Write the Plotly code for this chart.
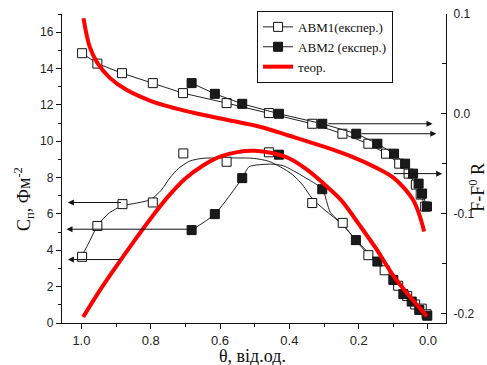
import plotly.graph_objects as go

# ---- data ----
# Upper curves: F - F0 (right axis) vs theta
abm1_theta = [0.998, 0.954, 0.883, 0.794, 0.707, 0.581, 0.459, 0.334, 0.247, 0.172, 0.121, 0.083, 0.056, 0.035, 0.021, 0.008]
abm1_F = [0.0607, 0.0503, 0.0407, 0.0307, 0.0207, 0.0107, 0.0007, -0.010, -0.020, -0.030, -0.040, -0.050, -0.060, -0.071, -0.081, -0.093]

abm2_theta = [0.682, 0.615, 0.536, 0.430, 0.305, 0.207, 0.146, 0.098, 0.066, 0.043, 0.027, 0.017, 0.003]
abm2_F = [0.0307, 0.020, 0.010, 0.000, -0.010, -0.020, -0.030, -0.040, -0.050, -0.060, -0.070, -0.080, -0.093]

theor_F_theta = [0.994, 0.976, 0.954, 0.918, 0.870, 0.793, 0.677, 0.581, 0.485, 0.40, 0.30, 0.22, 0.15, 0.10, 0.07, 0.042, 0.025, 0.011]
theor_F = [0.0957, 0.067, 0.051, 0.036, 0.024, 0.012, 0.001, -0.006, -0.013, -0.022, -0.033, -0.043, -0.054, -0.064, -0.074, -0.087, -0.101, -0.118]

# Lower curves: C_p (left axis) vs theta
abm1c_theta = [0.998, 0.954, 0.8815, 0.794, 0.706, 0.581, 0.459, 0.334, 0.246, 0.172, 0.125, 0.086, 0.060, 0.037, 0.018, 0.004]
abm1c_C = [3.64, 5.34, 6.54, 6.63, 9.33, 8.87, 9.39, 6.60, 5.51, 3.73, 2.90, 2.05, 1.48, 1.02, 0.79, 0.48]

abm2c_theta = [0.682, 0.615, 0.536, 0.430, 0.305, 0.208, 0.146, 0.100, 0.071, 0.047, 0.025, 0.002]
abm2c_C = [5.11, 5.99, 7.97, 9.26, 7.36, 4.56, 3.38, 2.37, 1.59, 1.18, 0.72, 0.40]

# smoothed fit lines through the lower experimental data
abm1fit_theta = [1.0, 0.975, 0.954, 0.92, 0.88, 0.84, 0.80, 0.77, 0.744, 0.72, 0.687, 0.649, 0.60, 0.55, 0.504, 0.46, 0.427, 0.39, 0.36, 0.334, 0.30, 0.246, 0.21, 0.172, 0.125, 0.086, 0.060, 0.037, 0.018, 0.004]
abm1fit_C = [3.64, 4.55, 5.34, 6.05, 6.45, 6.60, 6.80, 7.30, 8.00, 8.50, 8.91, 9.06, 9.08, 9.08, 9.06, 8.90, 8.60, 8.15, 7.55, 6.85, 6.25, 5.40, 4.60, 3.75, 2.90, 2.05, 1.48, 1.02, 0.75, 0.48]

abm2fit_theta = [0.682, 0.615, 0.536, 0.516, 0.454, 0.417, 0.358, 0.305, 0.282, 0.245, 0.208, 0.146, 0.100, 0.071, 0.047, 0.025, 0.002]
abm2fit_C = [5.11, 5.99, 7.97, 8.60, 8.74, 8.65, 8.04, 7.37, 6.10, 5.40, 4.56, 3.38, 2.37, 1.59, 1.18, 0.72, 0.40]

theor_C_theta = [0.995, 0.95, 0.90, 0.85, 0.80, 0.75, 0.70, 0.65, 0.60, 0.55, 0.50, 0.45, 0.40, 0.35, 0.30, 0.25, 0.20, 0.15, 0.10, 0.05, 0.003]
theor_C = [0.33, 1.70, 3.10, 4.45, 5.75, 6.95, 7.95, 8.65, 9.15, 9.40, 9.47, 9.35, 9.05, 8.45, 7.65, 6.75, 5.45, 4.10, 2.60, 1.40, 0.37]

# arrows: (tail theta, head theta, level)
left_arrows = [(0.8815, 1.039, 6.63), (0.682, 1.043, 5.16), (0.884, 1.039, 3.49)]
right_arrows = [(0.292, -0.013, -0.010), (0.196, -0.024, -0.020), (0.103, -0.041, -0.060)]

x_ticks = [1.0, 0.8, 0.6, 0.4, 0.2, 0.0]
y_ticks = [0, 2, 4, 6, 8, 10, 12, 14, 16]
y2_ticks = [-0.2, -0.1, 0.0, 0.1]
y2_ticktext = ["-0.2", "-0.1", "0.0", "0.1"]

RED = "#ff0000"
LINE = "#222222"
open_marker = dict(symbol="square", size=9, color="white", line=dict(color="#111111", width=1))
fill_marker = dict(symbol="square", size=9, color="#1a1a1a", line=dict(color="#111111", width=1))

fig = go.Figure()

# lower (left axis)
fig.add_trace(go.Scatter(x=abm1fit_theta, y=abm1fit_C, mode="lines", line=dict(color=LINE, width=1, shape="spline", smoothing=0.8),
                         showlegend=False, hoverinfo="skip"))
fig.add_trace(go.Scatter(x=abm2fit_theta, y=abm2fit_C, mode="lines", line=dict(color=LINE, width=1, shape="spline", smoothing=0.6),
                         showlegend=False, hoverinfo="skip"))
fig.add_trace(go.Scatter(x=abm1c_theta, y=abm1c_C, mode="markers", marker=open_marker, showlegend=False))
fig.add_trace(go.Scatter(x=abm2c_theta, y=abm2c_C, mode="markers", marker=fill_marker, showlegend=False))
fig.add_trace(go.Scatter(x=theor_C_theta, y=theor_C, mode="lines", line=dict(color=RED, width=4, shape="spline"),
                         showlegend=False))

# upper (right axis)
fig.add_trace(go.Scatter(x=abm1_theta, y=abm1_F, yaxis="y2", mode="lines+markers", name="ABM1(експер.)",
                         line=dict(color=LINE, width=1), marker=open_marker, legendrank=1))
fig.add_trace(go.Scatter(x=abm2_theta, y=abm2_F, yaxis="y2", mode="lines+markers", name="ABM2 (експер.)",
                         line=dict(color=LINE, width=1), marker=fill_marker, legendrank=2))
fig.add_trace(go.Scatter(x=theor_F_theta, y=theor_F, yaxis="y2", mode="lines", name="теор.",
                         line=dict(color=RED, width=4, shape="spline"), legendrank=3))

ann = []
for tail, head, lvl in left_arrows:
    ann.append(dict(x=head, y=lvl, ax=tail, ay=lvl, xref="x", yref="y", axref="x", ayref="y",
                    text="", showarrow=True, arrowhead=2, arrowsize=1.2, arrowwidth=1, arrowcolor="#111111"))
for tail, head, lvl in right_arrows:
    ann.append(dict(x=head, y=lvl, ax=tail, ay=lvl, xref="x", yref="y2", axref="x", ayref="y2",
                    text="", showarrow=True, arrowhead=2, arrowsize=1.2, arrowwidth=1, arrowcolor="#111111"))

SERIF = "Liberation Serif"
SANS = "Liberation Sans"
TFONT = dict(family=SERIF, size=18, color="#111111")
# axis titles placed as paper annotations
ann.append(dict(x=-0.100, y=0.40, xref="paper", yref="paper", text="C<sub>п</sub>, Фм<sup>-2</sup>", showarrow=False,
                textangle=-90, font=TFONT, xanchor="center", yanchor="middle"))
ann.append(dict(x=0.497, y=-0.108, xref="paper", yref="paper", text="θ, від.од.", showarrow=False,
                font=TFONT, xanchor="center", yanchor="middle"))
ann.append(dict(x=1.080, y=0.44, xref="paper", yref="paper", text="F-F<sup>0</sup> R", showarrow=False,
                textangle=-90, font=TFONT, xanchor="center", yanchor="middle"))
fig.update_layout(annotations=ann)

fig.update_layout(
    width=487, height=365,
    margin=dict(l=62, r=41, t=14, b=42, autoexpand=False),
    paper_bgcolor="white", plot_bgcolor="white",
    showlegend=True,
    legend=dict(x=0.508, y=1.01, xanchor="left", yanchor="top", bordercolor="#111111", borderwidth=1,
                bgcolor="rgba(255,255,255,0)", font=dict(family=SERIF, size=13, color="#111111"), tracegroupgap=0),
    xaxis=dict(range=[1.056, -0.052], automargin=False, showgrid=False, zeroline=False, showline=True, linecolor="#111111", linewidth=1.3,
               ticks="outside", ticklen=5, tickcolor="#111111", tickvals=x_ticks, tickformat=".1f",
               minor=dict(dtick=0.1, ticks="outside", ticklen=3, tickcolor="#111111"),
               tickfont=dict(family=SANS, size=13, color="#222222")),
    yaxis=dict(range=[0, 17], automargin=False, showgrid=False, zeroline=False, showline=True, linecolor="#111111", linewidth=1.3,
               ticks="outside", ticklen=5, tickcolor="#111111", tickvals=y_ticks,
               minor=dict(dtick=1, ticks="outside", ticklen=3, tickcolor="#111111"),
               tickfont=dict(family=SANS, size=12, color="#222222")),
    yaxis2=dict(range=[-0.2097, 0.1], automargin=False, overlaying="y", side="right", showgrid=False, zeroline=False, showline=True,
                linecolor="#111111", linewidth=1.3, ticks="inside", ticklen=5, tickcolor="#111111",
                tickvals=y2_ticks, ticktext=y2_ticktext, ticklabelstandoff=4,
                minor=dict(dtick=0.05, ticks="inside", ticklen=4, tickcolor="#111111"),
                tickfont=dict(family=SANS, size=12, color="#222222")),
)

fig.write_html("out.html")
